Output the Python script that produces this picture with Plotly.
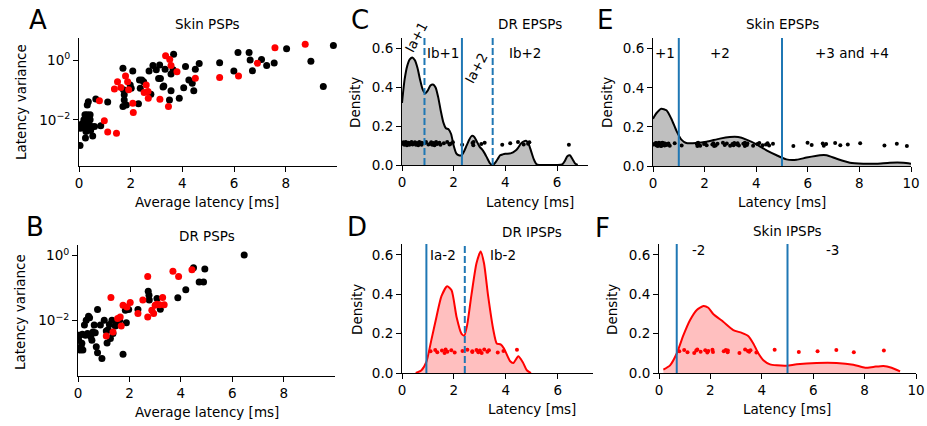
import plotly.graph_objects as go

W, H = 927, 426

# ---------------- data ----------------
# Panel A: Skin PSPs (average latency [ms], log10 latency variance)
skin_epsp_lat = [0.04, 0.10, 0.14, 0.17, 0.19, 0.23, 0.25, 0.27, 0.30, 0.32, 0.35, 0.38, 0.40, 0.43,
                 0.45, 0.49, 0.32, 0.36, 0.53, 0.60, 0.65, 0.06, 0.12, 0.27, 0.43, 0.84, 1.11, 1.70,
                 1.72, 1.75, 1.75, 1.70, 1.83, 1.98, 2.02, 2.08, 2.30, 2.34, 2.43, 2.50, 2.37, 2.71,
                 2.78, 2.86, 2.99, 3.08, 3.15, 3.12, 3.25, 3.28, 3.33, 3.50, 3.56, 3.56, 3.64, 3.66,
                 3.88, 4.05, 4.12, 4.25, 4.38, 4.44, 4.50, 4.65, 5.44, 5.99, 6.15, 6.58, 6.62, 6.71,
                 7.06, 7.26, 7.55, 8.03, 8.97, 9.45, 9.84]
skin_epsp_logvar = [-2.86, -2.22, -2.25, -2.11, -2.00, -1.83, -2.61, -2.39, -2.28, -1.83, -2.11, -2.17,
                    -1.94, -1.83, -2.36, -2.22, -1.50, -1.39, -2.54, -2.22, -1.30, -2.28, -2.13, -1.94,
                    -2.00, -2.20, -1.40, -0.27, -0.99, -1.16, -1.33, -1.55, -1.50, -0.83, -0.94, -0.36,
                    -1.46, -0.66, -0.66, -0.72, -0.94, -0.36, -1.14, -0.17, -0.32, -0.61, -0.61, -0.16,
                    -0.90, -0.86, -0.30, -1.33, -1.02, -0.46, -0.32, 0.20, -1.27, -0.92, -0.21, -0.66,
                    -0.77, -1.02, -0.30, -0.11, -0.08, -0.36, 0.26, 0.26, 0.01, -0.35, 0.03, -0.17,
                    -0.09, 0.39, -0.03, -0.88, 0.50]
skin_ipsp_lat = [0.79, 0.98, 1.11, 1.45, 1.37, 1.49, 1.62, 1.80, 1.88, 1.92, 2.08, 2.10, 2.52, 2.60,
                 2.67, 2.68, 3.13, 3.35, 3.51, 3.56, 3.79, 3.46, 4.50, 5.44, 6.17, 6.90, 7.58, 8.75]
skin_ipsp_logvar = [-1.36, -2.03, -2.41, -2.45, -0.96, -0.72, -0.91, -0.53, -0.72, -0.99, -1.44, -1.75,
                    -1.08, -0.83, -1.05, -1.27, -1.31, 0.15, 0.03, -0.17, -0.38, -1.55, -0.60, -0.58,
                    -0.53, -0.10, 0.42, 0.54]

# Panel B: DR PSPs
dr_epsp_lat = [0.03, 0.06, 0.09, 0.12, 0.19, 0.15, 0.17, 0.25, 0.29, 0.32, 0.37, 0.41, 0.45, 0.50,
               0.54, 0.58, 0.63, 0.67, 0.71, 0.76, 0.76, 0.87, 0.93, 1.02, 1.10, 1.13, 1.17, 1.22,
               1.26, 1.32, 1.36, 1.45, 1.49, 1.62, 1.75, 1.84, 1.88, 1.97, 2.33, 2.73, 2.76, 2.77,
               3.07, 3.20, 3.88, 4.19, 4.49, 4.71, 4.88, 4.93, 6.46]
dr_epsp_logvar = [-2.61, -2.45, -2.91, -2.81, -2.91, -2.70, -2.42, -2.14, -2.45, -1.99, -2.40, -1.87,
                  -1.91, -2.50, -2.61, -2.35, -2.14, -2.38, -2.81, -1.66, -2.99, -2.14, -3.17, -1.99,
                  -2.32, -2.69, -2.28, -2.12, -2.55, -1.99, -2.40, -2.17, -2.07, -1.99, -3.04, -1.68,
                  -2.07, -1.66, -1.66, -1.10, -1.22, -1.37, -1.32, -1.65, -1.30, -1.05, -0.37, -0.81,
                  -0.81, -0.41, 0.02]
dr_ipsp_lat = [1.10, 1.28, 1.36, 1.54, 1.64, 1.68, 1.75, 1.90, 2.03, 2.33, 2.52, 2.71, 2.71, 2.87,
               2.94, 3.00, 3.07, 3.17, 3.29, 3.35, 3.69, 3.91, 4.43]
dr_ipsp_logvar = [-2.48, -1.29, -2.35, -1.94, -1.89, -2.17, -1.53, -1.58, -1.44, -1.78, -1.37, -0.64,
                  -1.89, -1.68, -1.78, -1.53, -1.50, -1.51, -1.29, -1.51, -0.48, -0.64, -0.43]

# Density curves
c_x = [0, 0.1, 0.2, 0.3, 0.4, 0.5, 0.6, 0.7, 0.8, 0.9, 1.0, 1.1, 1.2, 1.3, 1.4, 1.5, 1.6, 1.7, 1.8,
       1.9, 2.0, 2.1, 2.2, 2.3, 2.4, 2.5, 2.6, 2.7, 2.8, 2.9, 3.0, 3.1, 3.2, 3.3, 3.4, 3.5, 3.6, 3.7,
       3.8, 3.9, 4.0, 4.2, 4.4, 4.5, 4.6, 4.7, 4.8, 4.9, 5.0, 5.1, 5.2, 5.3, 5.5, 6.0, 6.2, 6.3, 6.4,
       6.5, 6.6, 6.7, 6.8]
c_y = [0.32, 0.44, 0.51, 0.545, 0.555, 0.54, 0.50, 0.44, 0.39, 0.37, 0.385, 0.41, 0.415, 0.40, 0.35,
       0.28, 0.22, 0.19, 0.185, 0.16, 0.10, 0.06, 0.05, 0.05, 0.07, 0.10, 0.13, 0.15, 0.145, 0.12,
       0.095, 0.08, 0.06, 0.035, 0.01, 0.0, 0.01, 0.03, 0.05, 0.055, 0.058, 0.06, 0.075, 0.09, 0.11,
       0.12, 0.125, 0.11, 0.07, 0.03, 0.005, 0.0, 0.0, 0.0, 0.003, 0.02, 0.045, 0.05, 0.03, 0.008, 0.0]
d_x = [0.53, 0.75, 0.94, 1.13, 1.33, 1.52, 1.74, 1.91, 2.10, 2.29, 2.40, 2.51, 2.68, 2.87, 3.03, 3.16,
       3.32, 3.52, 3.65, 3.80, 3.93, 4.16, 4.29, 4.48, 4.65, 4.81, 4.97]
d_y = [0.0, 0.014, 0.056, 0.167, 0.286, 0.39, 0.44, 0.42, 0.286, 0.20, 0.19, 0.243, 0.40, 0.557,
       0.617, 0.557, 0.39, 0.218, 0.15, 0.145, 0.124, 0.061, 0.051, 0.085, 0.056, 0.014, 0.0]
e_x = [0, 0.13, 0.32, 0.52, 0.71, 0.91, 1.10, 1.29, 1.68, 2.07, 2.59, 2.98, 3.30, 3.62, 4.01, 4.40,
       4.79, 5.17, 5.56, 5.95, 6.47, 6.73, 7.12, 7.63, 8.15, 8.67, 9.18, 9.70, 10.0]
e_y = [0.242, 0.27, 0.293, 0.285, 0.242, 0.18, 0.135, 0.118, 0.118, 0.124, 0.14, 0.148, 0.148, 0.135,
       0.111, 0.08, 0.055, 0.034, 0.032, 0.043, 0.055, 0.055, 0.037, 0.017, 0.012, 0.012, 0.017,
       0.017, 0.012]
f_x = [0.17, 0.43, 0.69, 0.95, 1.21, 1.47, 1.73, 1.92, 2.11, 2.50, 2.89, 3.22, 3.48, 3.67, 3.87, 4.06,
       4.32, 4.58, 4.97, 5.36, 6.13, 6.91, 7.56, 8.02, 8.34, 8.73, 9.05, 9.38]
f_y = [0.017, 0.039, 0.099, 0.192, 0.269, 0.32, 0.34, 0.331, 0.30, 0.26, 0.218, 0.204, 0.187, 0.15,
       0.099, 0.065, 0.044, 0.039, 0.037, 0.044, 0.051, 0.051, 0.042, 0.027, 0.031, 0.036, 0.027,
       0.0085]

# Boundaries (solid, dashed) and region labels
c_solid, c_dashed = [2.32], [0.87, 3.51]
d_solid, d_dashed = [0.94], [2.42]
e_solid = [1.0, 5.0]
f_solid = [0.69, 5.0]

strip_level = 0.11
strip_jitter = [0.0, 0.007, -0.005, 0.004, -0.008, 0.009, -0.002, 0.005, -0.006, 0.002, 0.008, -0.004]

# ---------------- style ----------------
FONT = "DejaVu Sans"
FS = 13.5
BLUE = "#1f77b4"
RED = "#ff0000"


def px(x):
    return x / W


def py(y):
    return 1 - y / H


def jit(n):
    return [strip_level + strip_jitter[i % len(strip_jitter)] for i in range(n)]


fig = go.Figure()

# scatter panels
fig.add_trace(go.Scatter(x=skin_epsp_lat, y=[10 ** v for v in skin_epsp_logvar], mode="markers",
                         marker=dict(color="black", size=7, line=dict(width=0)), xaxis="x", yaxis="y"))
fig.add_trace(go.Scatter(x=skin_ipsp_lat, y=[10 ** v for v in skin_ipsp_logvar], mode="markers",
                         marker=dict(color=RED, size=7, line=dict(width=0)), xaxis="x", yaxis="y"))
fig.add_trace(go.Scatter(x=dr_epsp_lat, y=[10 ** v for v in dr_epsp_logvar], mode="markers",
                         marker=dict(color="black", size=7, line=dict(width=0)), xaxis="x2", yaxis="y2"))
fig.add_trace(go.Scatter(x=dr_ipsp_lat, y=[10 ** v for v in dr_ipsp_logvar], mode="markers",
                         marker=dict(color=RED, size=7, line=dict(width=0)), xaxis="x2", yaxis="y2"))

# density panels
panels = [
    ("x3", "y3", c_x, c_y, "black", "#bfbfbf", dr_epsp_lat, "black"),
    ("x4", "y4", d_x, d_y, RED, "rgba(255,0,0,0.25)", dr_ipsp_lat, RED),
    ("x5", "y5", e_x, e_y, "black", "#bfbfbf", skin_epsp_lat, "black"),
    ("x6", "y6", f_x, f_y, RED, "rgba(255,0,0,0.25)", skin_ipsp_lat, RED),
]
for xa, ya, kx, ky, lc, fc, pts, pc in panels:
    fig.add_trace(go.Scatter(x=kx, y=ky, mode="lines", line=dict(color=lc, width=2, shape="spline", smoothing=0.6),
                             fill="tozeroy", fillcolor=fc, xaxis=xa, yaxis=ya))
    fig.add_trace(go.Scatter(x=pts, y=jit(len(pts)), mode="markers",
                             marker=dict(color=pc, size=4, line=dict(width=0)), xaxis=xa, yaxis=ya))

shapes = []


def vlines(xs, xa, ya, dash):
    for v in xs:
        shapes.append(dict(type="line", xref=xa, yref=ya + " domain", x0=v, x1=v, y0=0, y1=1,
                           line=dict(color=BLUE, width=2, dash=dash)))


vlines(c_solid, "x3", "y3", "solid")
vlines(c_dashed, "x3", "y3", "7px,3px")
vlines(d_solid, "x4", "y4", "solid")
vlines(d_dashed, "x4", "y4", "7px,3px")
vlines(e_solid, "x5", "y5", "solid")
vlines(f_solid, "x6", "y6", "solid")

ax_common = dict(showline=True, linecolor="black", linewidth=1, ticks="outside", ticklen=5, tickwidth=1,
                 tickcolor="black", showgrid=False, zeroline=False, tickfont=dict(family=FONT, size=FS, color="black"),
                 fixedrange=True, automargin=False)

# domains (pixels -> paper)
dom = {
    1: ((79, 337), (38, 166)),
    2: ((78, 335), (245, 376)),
    3: ((402, 588), (38, 165)),
    4: ((402, 593), (244, 373)),
    5: ((653, 911), (38, 166)),
    6: ((659, 916), (244, 373)),
}
xr = {1: [0, 9.98], 2: [0, 9.99], 3: [0, 7.2], 4: [0, 7.36], 5: [0, 10], 6: [0, 10]}
layout_axes = {}
for i in range(1, 7):
    (x0, x1), (y0, y1) = dom[i]
    xn = "xaxis" if i == 1 else f"xaxis{i}"
    yn = "yaxis" if i == 1 else f"yaxis{i}"
    anchor_y = "y" if i == 1 else f"y{i}"
    anchor_x = "x" if i == 1 else f"x{i}"
    xt = [0, 2, 4, 6, 8] if i <= 2 else ([0, 2, 4, 6] if i <= 4 else [0, 2, 4, 6, 8, 10])
    layout_axes[xn] = dict(ax_common, domain=[px(x0), px(x1)], anchor=anchor_y, range=xr[i],
                           tickvals=xt, ticktext=[str(t) for t in xt])
    if i == 1:
        layout_axes[yn] = dict(ax_common, domain=[py(y1), py(y0)], anchor=anchor_x, type="log",
                               range=[-3.55, 0.75], tickvals=[1, 0.01],
                               ticktext=["10<sup>0</sup>", "10<sup>\u22122</sup>"])
    elif i == 2:
        layout_axes[yn] = dict(ax_common, domain=[py(y1), py(y0)], anchor=anchor_x, type="log",
                               range=[-3.71, 0.33], tickvals=[1, 0.01],
                               ticktext=["10<sup>0</sup>", "10<sup>\u22122</sup>"])
    else:
        layout_axes[yn] = dict(ax_common, domain=[py(y1), py(y0)], anchor=anchor_x, range=[0, 0.655],
                               tickvals=[0, 0.2, 0.4, 0.6], ticktext=["0.0", "0.2", "0.4", "0.6"])

ann = []


def txt(t, x, y, size=FS, angle=0):
    ann.append(dict(text=t, x=px(x), y=py(y), xref="paper", yref="paper", showarrow=False,
                    xanchor="center", yanchor="middle", textangle=angle,
                    font=dict(family=FONT, size=size, color="black")))


# panel letters
for t, x, y in [("A", 38, 20), ("B", 35, 227), ("C", 360, 20), ("D", 357, 227), ("E", 605, 20), ("F", 602, 228)]:
    txt(t, x, y, size=26)
# titles
for t, x, y in [("Skin PSPs", 207, 24), ("DR PSPs", 207, 236), ("DR EPSPs", 530, 24), ("DR IPSPs", 532, 232),
                ("Skin EPSPs", 782, 24), ("Skin IPSPs", 787, 231)]:
    txt(t, x, y)
# x titles
for t, x, y in [("Average latency [ms]", 207, 202), ("Average latency [ms]", 207, 412), ("Latency [ms]", 530, 202),
                ("Latency [ms]", 532, 409), ("Latency [ms]", 782, 202), ("Latency [ms]", 787, 409)]:
    txt(t, x, y)
# y titles
for t, x, y in [("Latency variance", 21, 102), ("Latency variance", 20, 312), ("Density", 355, 103),
                ("Density", 357, 310), ("Density", 607, 103), ("Density", 612, 310)]:
    txt(t, x, y, angle=-90)
# region labels
for t, x, y, a in [("Ia+1", 416, 37, -62), ("Ib+1", 443, 53, 0), ("Ia+2", 476, 68, -62), ("Ib+2", 525, 53, 0),
                   ("Ia-2", 443, 255, 0), ("Ib-2", 503, 255, 0),
                   ("+1", 665, 53, 0), ("+2", 720, 53, 0), ("+3 and +4", 852, 53, 0),
                   ("-2", 698, 250, 0), ("-3", 832, 250, 0)]:
    txt(t, x, y, angle=a)

fig.update_layout(width=W, height=H, margin=dict(l=0, r=0, t=0, b=0, autoexpand=False), showlegend=False,
                  paper_bgcolor="white", plot_bgcolor="white", shapes=shapes, annotations=ann,
                  hovermode=False,
                  font=dict(family=FONT, size=FS, color="black"), **layout_axes)

fig.write_html("out.html", config={"displayModeBar": False, "staticPlot": True},
               post_script="document.body.style.margin='0';document.body.style.overflow='hidden';")
